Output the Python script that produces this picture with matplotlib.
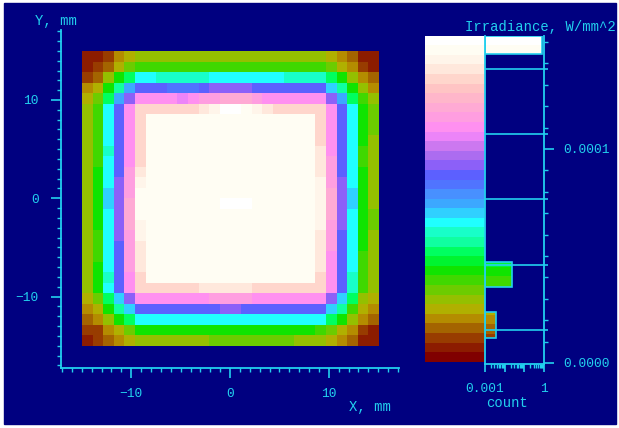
import numpy as np
import matplotlib
matplotlib.use("Agg")
import matplotlib.pyplot as plt
from matplotlib.colors import ListedColormap
from matplotlib.patches import Rectangle
from matplotlib.ticker import MultipleLocator, FixedLocator, FixedFormatter, LogLocator, NullFormatter

W, H = 619, 428
FG = '#22d0ee'
BG = '#000080'
plt.rcParams['font.family'] = ['Liberation Mono', 'DejaVu Sans Mono']

# colour levels of the irradiance scale, bottom (0 W/mm^2) to top
level_colors = ['#800000', '#8c1c00', '#983c00', '#a46400', '#b48c00', '#b0b000',
                '#94c000', '#6ccc00', '#40d800', '#10e400', '#00f430', '#00ff60',
                '#10ffa0', '#18ffc8', '#20ffff', '#30d0ff', '#3ca8ff', '#4890ff',
                '#5074ff', '#5c60ff', '#8c60f8', '#ac6cf0', '#cc78f0', '#ec84f8',
                '#ff90f0', '#ff9ee0', '#ffaad4', '#ffb6ca', '#ffc4c4', '#ffd6cc',
                '#ffe8dc', '#fff5ea', '#fffdf3', '#ffffff']
irr_max = 1.529e-4

# irradiance map read as colour level per cell (row 0 = y +15 mm)
levels = [
    [1, 1, 2, 4, 5, 6, 6, 6, 6, 6, 6, 6, 6, 6, 6, 6, 6, 6, 6, 6, 6, 6, 6, 5, 4, 3, 1, 1],
    [1, 2, 3, 5, 7, 8, 8, 8, 8, 8, 8, 8, 8, 8, 8, 8, 8, 8, 8, 8, 8, 8, 8, 7, 5, 4, 2, 1],
    [2, 3, 6, 9, 11, 14, 14, 13, 13, 13, 13, 13, 14, 14, 14, 14, 14, 14, 14, 13, 13, 13, 13, 11, 9, 6, 4, 3],
    [4, 5, 9, 12, 16, 19, 19, 19, 18, 18, 18, 19, 20, 20, 20, 20, 19, 19, 19, 19, 19, 19, 19, 15, 12, 9, 6, 4],
    [5, 7, 11, 16, 20, 24, 24, 24, 24, 23, 24, 25, 25, 26, 26, 26, 25, 24, 24, 24, 24, 24, 24, 20, 16, 11, 8, 6],
    [6, 8, 14, 19, 24, 29, 29, 29, 29, 29, 29, 30, 31, 33, 33, 32, 31, 30, 29, 29, 29, 29, 29, 24, 19, 14, 9, 7],
    [6, 8, 14, 19, 24, 29, 32, 32, 32, 32, 32, 32, 32, 32, 32, 32, 32, 32, 32, 32, 32, 32, 29, 24, 19, 14, 9, 7],
    [6, 8, 14, 19, 24, 29, 32, 32, 32, 32, 32, 32, 32, 32, 32, 32, 32, 32, 32, 32, 32, 32, 29, 24, 19, 14, 9, 7],
    [6, 8, 14, 19, 24, 29, 32, 32, 32, 32, 32, 32, 32, 32, 32, 32, 32, 32, 32, 32, 32, 32, 29, 24, 19, 14, 9, 6],
    [6, 8, 13, 19, 24, 29, 32, 32, 32, 32, 32, 32, 32, 32, 32, 32, 32, 32, 32, 32, 32, 32, 30, 24, 19, 14, 8, 6],
    [6, 8, 14, 19, 24, 29, 32, 32, 32, 32, 32, 32, 32, 32, 32, 32, 32, 32, 32, 32, 32, 32, 30, 25, 19, 14, 8, 6],
    [6, 9, 14, 19, 25, 30, 32, 32, 32, 32, 32, 32, 32, 32, 32, 32, 32, 32, 32, 32, 32, 32, 30, 25, 19, 14, 9, 6],
    [6, 9, 14, 20, 25, 31, 32, 32, 32, 32, 32, 32, 32, 32, 32, 32, 32, 32, 32, 32, 32, 32, 31, 25, 20, 14, 9, 6],
    [6, 9, 15, 20, 25, 32, 32, 32, 32, 32, 32, 32, 32, 32, 32, 32, 32, 32, 32, 32, 32, 32, 31, 26, 20, 15, 9, 6],
    [6, 9, 15, 20, 26, 32, 32, 32, 32, 32, 32, 32, 32, 33, 33, 33, 32, 32, 32, 32, 32, 32, 31, 26, 20, 15, 9, 6],
    [6, 9, 14, 20, 26, 32, 32, 32, 32, 32, 32, 32, 32, 32, 32, 32, 32, 32, 32, 32, 32, 32, 31, 26, 20, 14, 9, 7],
    [6, 9, 14, 20, 26, 31, 32, 32, 32, 32, 32, 32, 32, 32, 32, 32, 32, 32, 32, 32, 32, 32, 31, 25, 20, 14, 9, 7],
    [6, 8, 14, 20, 25, 31, 32, 32, 32, 32, 32, 32, 32, 32, 32, 32, 32, 32, 32, 32, 32, 32, 30, 25, 19, 14, 9, 6],
    [6, 8, 14, 19, 25, 30, 32, 32, 32, 32, 32, 32, 32, 32, 32, 32, 32, 32, 32, 32, 32, 32, 30, 25, 19, 14, 9, 6],
    [6, 8, 14, 19, 25, 30, 32, 32, 32, 32, 32, 32, 32, 32, 32, 32, 32, 32, 32, 32, 32, 32, 30, 24, 19, 14, 8, 6],
    [6, 9, 14, 19, 25, 30, 32, 32, 32, 32, 32, 32, 32, 32, 32, 32, 32, 32, 32, 32, 32, 32, 30, 24, 19, 14, 8, 6],
    [6, 9, 13, 19, 24, 29, 32, 32, 32, 32, 32, 32, 32, 32, 32, 32, 32, 32, 32, 32, 32, 32, 29, 24, 19, 13, 8, 6],
    [6, 9, 14, 19, 24, 29, 29, 29, 29, 29, 29, 30, 30, 30, 30, 30, 29, 29, 29, 29, 29, 29, 29, 24, 19, 13, 8, 6],
    [5, 7, 11, 15, 20, 24, 24, 24, 24, 24, 24, 24, 25, 25, 25, 25, 24, 24, 24, 24, 24, 24, 24, 20, 15, 11, 6, 5],
    [4, 5, 9, 12, 15, 19, 19, 19, 19, 19, 19, 19, 19, 20, 20, 19, 19, 19, 19, 19, 19, 19, 19, 15, 12, 8, 5, 4],
    [3, 4, 6, 9, 11, 14, 14, 14, 14, 14, 14, 14, 14, 14, 14, 14, 14, 14, 14, 14, 14, 14, 14, 11, 9, 6, 4, 3],
    [2, 2, 4, 5, 7, 9, 9, 9, 9, 9, 9, 9, 9, 9, 9, 9, 9, 9, 9, 9, 9, 9, 8, 7, 5, 4, 2, 1],
    [1, 2, 3, 4, 5, 6, 6, 6, 6, 6, 6, 6, 7, 7, 7, 7, 7, 7, 7, 7, 6, 6, 6, 5, 4, 3, 1, 1],
]

# histogram bars (irradiance range) and counts
hist_lo = [1.444e-4, 0.353e-4, 0.118e-4]
hist_hi = [1.528e-4, 0.473e-4, 0.237e-4]
hist_count = [0.76, 0.023, 0.0035]
hist_lines = [1.374e-4, 1.071e-4, 0.766e-4, 0.458e-4, 0.154e-4]


def px(l, t, r, b):
    return [l / W, 1 - b / H, (r - l) / W, (b - t) / H]


fig = plt.figure(figsize=(W / 100, H / 100), dpi=100, facecolor='white')
fig.patches.append(Rectangle((4 / W, 4 / H), (W - 7) / W, (H - 7) / H,
                             transform=fig.transFigure, color=BG, zorder=-10))

cmap = ListedColormap(level_colors)
step = irr_max / len(level_colors)
irr = (np.array(levels) + 0.5) * step

# main map
ax = fig.add_axes(px(60.7, 30, 399, 368))
ax.set_facecolor('none')
im = ax.imshow(irr, cmap=cmap, vmin=0, vmax=irr_max, extent=(-15, 15, -15, 15),
               interpolation='nearest', aspect='auto')
ax.set_xlim(-17.14, 17.1)
ax.set_ylim(-17.26, 17.12)
for s in ('top', 'right'):
    ax.spines[s].set_visible(False)
for s in ('left', 'bottom'):
    ax.spines[s].set_color(FG)
    ax.spines[s].set_linewidth(1.3)
ax.xaxis.set_major_locator(MultipleLocator(10))
ax.xaxis.set_minor_locator(MultipleLocator(1))
ax.yaxis.set_major_locator(MultipleLocator(10))
ax.yaxis.set_minor_locator(MultipleLocator(1))
ax.tick_params(which='major', length=7.5, width=1.2, color=FG, labelcolor=FG, labelsize=9.3)
ax.tick_params(which='minor', length=3.2, width=1.0, color=FG)
ax.tick_params(axis='y', which='major', pad=8.4)
ax.tick_params(axis='x', which='major', pad=7)

# colour scale
cax = fig.add_axes(px(424.7, 35.7, 485, 361.7))
cb = fig.colorbar(im, cax=cax)
cb.outline.set_visible(False)
cax.set_yticks([])
cax.set_xticks([])

# histogram
hax = fig.add_axes(px(485, 36, 544, 364))
hax.set_facecolor('none')
hax.set_xscale('log')
hax.set_xlim(1e-3, 1)
hax.set_ylim(-0.47e-6, 1.528e-4)
for lo, hi, c in zip(hist_lo, hist_hi, hist_count):
    for k, col in enumerate(level_colors):
        a, b = max(lo, k * step), min(hi, (k + 1) * step)
        if b > a:
            hax.barh(a, c - 1e-3, left=1e-3, height=b - a, align='edge', color=col, linewidth=0)
    hax.barh(lo, c - 1e-3, left=1e-3, height=hi - lo, align='edge', fill=False,
             edgecolor=FG, linewidth=1.2)
hax.hlines(hist_lines, 0, 1.07, transform=hax.get_yaxis_transform(), colors=FG,
           linewidth=1.2, clip_on=False)
hax.spines['top'].set_visible(False)
for s in ('left', 'right', 'bottom'):
    hax.spines[s].set_color(FG)
    hax.spines[s].set_linewidth(1.3)
hax.yaxis.tick_right()
hax.yaxis.set_major_locator(FixedLocator([0, 1e-4]))
hax.yaxis.set_major_formatter(FixedFormatter(['0.0000', '0.0001']))
hax.yaxis.set_minor_locator(MultipleLocator(1e-5))
hax.xaxis.set_major_locator(FixedLocator([1e-3, 1e-2, 1e-1, 1]))
hax.xaxis.set_major_formatter(FixedFormatter(['0.001', '', '', '1']))
hax.xaxis.set_minor_locator(LogLocator(base=10, subs=np.arange(2, 10)))
hax.xaxis.set_minor_formatter(NullFormatter())
hax.tick_params(which='major', length=7.5, width=1.2, color=FG, labelcolor=FG, labelsize=9.3)
hax.tick_params(which='minor', length=3.2, width=1.0, color=FG)
hax.tick_params(axis='y', which='major', pad=6.5)
hax.tick_params(axis='x', which='major', length=6, pad=8)

tkw = dict(color=FG, fontsize=10)
fig.text(35 / W, 1 - 21 / H, 'Y, mm', ha='left', va='center', **tkw)
fig.text(370 / W, 1 - 407 / H, 'X, mm', ha='center', va='center', **tkw)
fig.text(616 / W, 1 - 27 / H, 'Irradiance, W/mm^2', ha='right', va='center', **tkw)
fig.text(507 / W, 1 - 403 / H, 'count', ha='center', va='center', **tkw)

fig.savefig('out.png', dpi=100, facecolor='white')
